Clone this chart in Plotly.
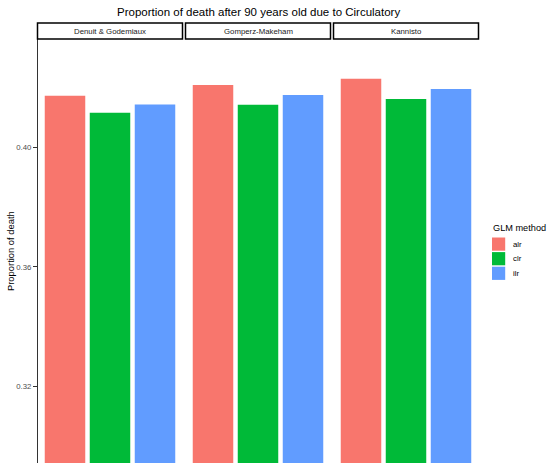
import plotly.graph_objects as go

# Facet panels (mortality models) and GLM methods
models = ["Denuit & Godemiaux", "Gomperz-Makeham", "Kannisto"]
methods = ["alr", "clr", "ilr"]
colors = ["#F8766D", "#00BA38", "#619CFF"]

# Proportion of death after 90 by model (rows) and method (columns)
prop_alr = [0.4172, 0.4208, 0.4229]
prop_clr = [0.4115, 0.4142, 0.4161]
prop_ilr = [0.4143, 0.4175, 0.4195]

y_ticks = [0.32, 0.36, 0.40]
y_tick_text = ["0.32", "0.36", "0.40"]

W, H = 547, 463
FONT = "Liberation Sans, Arial, sans-serif"


def px_x(x):
    return x / W


def px_y(y):
    return 1 - y / H


# panel pixel extents (left, right); panels share one y axis
panel_px = [(38, 182), (186, 330), (334, 478)]
panel_top, panel_bottom = 39, 463
strip_top = 23

values = {"alr": prop_alr, "clr": prop_clr, "ilr": prop_ilr}

fig = go.Figure()
for i, model in enumerate(models):
    xa = "x" if i == 0 else f"x{i + 1}"
    for method, col in zip(methods, colors):
        fig.add_trace(go.Bar(
            x=[method], y=[values[method][i]],
            xaxis=xa, yaxis="y",
            width=0.9,
            marker=dict(color=col, line=dict(width=0)),
            name=method, showlegend=False,
            hovertemplate=f"{model}<br>{method}: %{{y:.4f}}<extra></extra>",
        ))

layout = dict(
    width=W, height=H,
    margin=dict(l=0, r=0, t=0, b=0),
    paper_bgcolor="white", plot_bgcolor="white",
    barmode="overlay",
    showlegend=False,
    font=dict(family=FONT, color="#000000"),
    yaxis=dict(
        domain=[px_y(panel_bottom), px_y(panel_top)],
        range=[0.2944, 0.4362],
        anchor="x",
        tickvals=y_ticks, ticktext=y_tick_text,
        ticks="outside", ticklen=4, tickwidth=1, tickcolor="#333333",
        tickfont=dict(family=FONT, size=7.8, color="#4D4D4D"),
        showline=True, linecolor="#333333", linewidth=1.1,
        showgrid=False, zeroline=False,
    ),
)
for i, (l, r) in enumerate(panel_px):
    key = "xaxis" if i == 0 else f"xaxis{i + 1}"
    layout[key] = dict(
        domain=[px_x(l), px_x(r)],
        anchor="y",
        type="category",
        categoryorder="array", categoryarray=methods,
        range=[-0.6, 2.6],
        showticklabels=False, ticks="", showline=False,
        showgrid=False, zeroline=False,
    )

shapes = []
annotations = []

# facet strips
for (l, r), model in zip(panel_px, models):
    shapes.append(dict(
        type="rect", xref="paper", yref="paper",
        x0=px_x(l - 0.5), x1=px_x(r + 0.5),
        y0=px_y(panel_top), y1=px_y(strip_top),
        fillcolor="white", line=dict(color="#000000", width=1.5),
        layer="above",
    ))
    annotations.append(dict(
        text=model, xref="paper", yref="paper",
        x=px_x((l + r) / 2), y=px_y((panel_top + strip_top) / 2),
        xanchor="center", yanchor="middle", showarrow=False,
        font=dict(family=FONT, size=7.8, color="#1A1A1A"),
    ))

# chart title
annotations.append(dict(
    text="Proportion of death after 90 years old due to Circulatory",
    xref="paper", yref="paper",
    x=px_x(258), y=px_y(12.5), xanchor="center", yanchor="middle",
    showarrow=False, font=dict(family=FONT, size=11.5, color="#000000"),
))

# y axis title
annotations.append(dict(
    text="Proportion of death", xref="paper", yref="paper",
    x=px_x(10), y=px_y(251), xanchor="center", yanchor="middle",
    textangle=-90, showarrow=False,
    font=dict(family=FONT, size=9.4, color="#000000"),
))

# legend: title, colour keys and labels
annotations.append(dict(
    text="GLM method", xref="paper", yref="paper",
    x=px_x(491), y=px_y(228), xanchor="left", yanchor="middle",
    showarrow=False, font=dict(family=FONT, size=9.2, color="#000000"),
))
key_top = 237.5
key_step = 14.6
key_size = 13.2
for j, (method, col) in enumerate(zip(methods, colors)):
    y0 = key_top + j * key_step
    shapes.append(dict(
        type="rect", xref="paper", yref="paper",
        x0=px_x(492), x1=px_x(492 + key_size),
        y0=px_y(y0 + key_size), y1=px_y(y0),
        fillcolor=col, line=dict(width=0),
    ))
    annotations.append(dict(
        text=method, xref="paper", yref="paper",
        x=px_x(510.5), y=px_y(y0 + key_size / 2),
        xanchor="left", yanchor="middle", showarrow=False,
        font=dict(family=FONT, size=7.8, color="#000000"),
    ))

layout["shapes"] = shapes
layout["annotations"] = annotations
fig.update_layout(**layout)

fig.write_html("out.html")
